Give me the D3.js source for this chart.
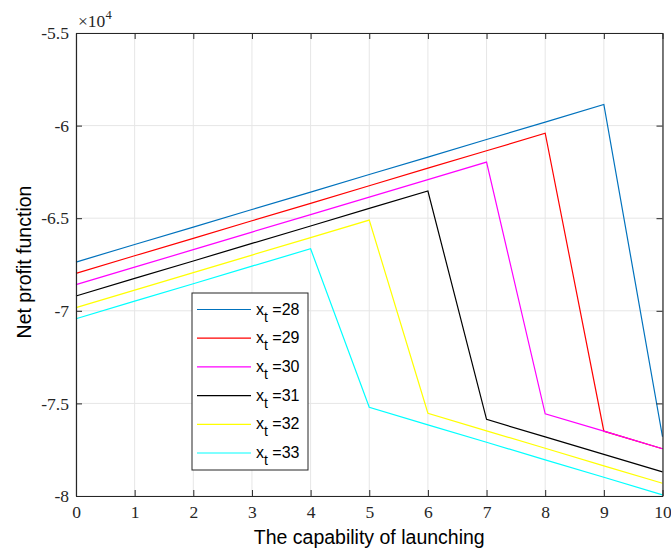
<!DOCTYPE html>
<html><head><meta charset="utf-8">
<script src="https://cdn.jsdelivr.net/npm/d3@7"></script>
<style>body{margin:0;background:#fff;} svg{display:block;}</style>
</head><body>
<script>
const xValues = [0,1,2,3,4,5,6,7,8,9,10];
const seriesNames = ["28","29","30","31","32","33"];
const seriesColors = ["#0072BD","#FF0000","#FF00FF","#000000","#FFFF00","#00FFFF"];
const s28 = [-67370,-66420,-65480,-64530,-63590,-62640,-61700,-60750,-59810,-58860,-76800];
const s29 = [-67980,-67030,-66090,-65140,-64200,-63250,-62300,-61360,-60410,-76500,-77450];
const s30 = [-68590,-67640,-66700,-65750,-64810,-63860,-62920,-61970,-75560,-76500,-77450];
const s31 = [-69200,-68250,-67310,-66360,-65420,-64470,-63530,-75860,-76810,-77750,-78700];
const s32 = [-69830,-68880,-67940,-66990,-66050,-65100,-75530,-76480,-77420,-78370,-79310];
const s33 = [-70430,-69480,-68540,-67590,-66650,-75210,-76160,-77100,-78050,-78990,-79940];
const allSeries = [s28,s29,s30,s31,s32,s33];
const xTicks = [0,1,2,3,4,5,6,7,8,9,10];
const yTicks = [-80000,-75000,-70000,-65000,-60000,-55000];
const yTickLabels = ["-8","-7.5","-7","-6.5","-6","-5.5"];

const W = 671, H = 552;
const m = {left:76, top:33, right:671-662.5, bottom:552-496};
const svg = d3.select("body").append("svg").attr("width",W).attr("height",H);
const x = d3.scaleLinear().domain([0,10]).range([m.left, W-m.right]);
const y = d3.scaleLinear().domain([-80000,-55000]).range([H-m.bottom, m.top]);
const axisColor = "#262626";
const serif = "'Liberation Serif','DejaVu Serif',serif";
const sans = "'Liberation Sans',Arial,Helvetica,sans-serif";

// grid
svg.append("g").selectAll("line").data(xTicks).join("line")
  .attr("x1",d=>x(d)).attr("x2",d=>x(d)).attr("y1",y(-80000)).attr("y2",y(-55000))
  .attr("stroke","#e6e6e6").attr("stroke-width",1);
svg.append("g").selectAll("line").data(yTicks).join("line")
  .attr("y1",d=>y(d)).attr("y2",d=>y(d)).attr("x1",x(0)).attr("x2",x(10))
  .attr("stroke","#e6e6e6").attr("stroke-width",1);

// lines
const line = d3.line().x((d,i)=>x(xValues[i])).y(d=>y(d));
allSeries.forEach((s,i)=>{
  svg.append("path").datum(s).attr("d",line).attr("fill","none")
    .attr("stroke",seriesColors[i]).attr("stroke-width",1.2);
});

// axes
const tl = 6;
function axisStyle(g){
  g.attr("font-family",null).attr("font-size",null);
  g.select(".domain").attr("stroke",axisColor).attr("stroke-width",1.2);
  g.selectAll(".tick line").attr("stroke",axisColor).attr("stroke-width",1);
  g.selectAll(".tick text").attr("fill",axisColor)
    .style("font-family",serif).style("font-size","17.5px");
}
svg.append("g").attr("transform",`translate(0,${y(-80000)})`)
  .call(d3.axisBottom(x).tickValues(xTicks).tickSize(-tl).tickSizeOuter(0).tickPadding(10).tickFormat(d3.format("d")))
  .call(axisStyle);
svg.append("g").attr("transform",`translate(0,${y(-55000)})`)
  .call(d3.axisTop(x).tickValues(xTicks).tickSize(-tl).tickSizeOuter(0).tickFormat(""))
  .call(axisStyle);
svg.append("g").attr("transform",`translate(${x(0)},0)`)
  .call(d3.axisLeft(y).tickValues(yTicks).tickSize(-tl).tickSizeOuter(0).tickPadding(7).tickFormat((d,i)=>yTickLabels[i]))
  .call(axisStyle);
svg.append("g").attr("transform",`translate(${x(10)},0)`)
  .call(d3.axisRight(y).tickValues(yTicks).tickSize(-tl).tickSizeOuter(0).tickFormat(""))
  .call(axisStyle);

// exponent
const ex = svg.append("text").attr("x",x(0)+2).attr("y",y(-55000)-6)
  .style("font-family",serif).style("font-size","17.5px").attr("fill",axisColor);
ex.append("tspan").text("×10");
ex.append("tspan").style("font-size","12.5px").attr("dy",-8).text("4");

// axis labels
svg.append("text").attr("x",(x(0)+x(10))/2).attr("y",544)
  .attr("text-anchor","middle").style("font-family",sans).style("font-size","19.5px").attr("fill","#000")
  .text("The capability of launching");
svg.append("text").attr("transform",`translate(31,262) rotate(-90)`)
  .attr("text-anchor","middle").style("font-family",sans).style("font-size","19.5px").attr("fill","#000")
  .text("Net profit function");

// legend
const lg = svg.append("g");
lg.append("rect").attr("x",192).attr("y",293).attr("width",116).attr("height",177)
  .attr("fill","#fff").attr("stroke","#262626").attr("stroke-width",1);
seriesNames.forEach((n,i)=>{
  const yy = 309.5 + i*28.7;
  lg.append("line").attr("x1",197).attr("x2",251).attr("y1",yy).attr("y2",yy)
    .attr("stroke",seriesColors[i]).attr("stroke-width",1.2);
  const t = lg.append("text").attr("x",256).attr("y",yy+5)
    .style("font-family",sans).style("font-size","16px").attr("fill","#000");
  t.append("tspan").text("x");
  t.append("tspan").style("font-size","14px").attr("dy",7).text("t");
  t.append("tspan").attr("dy",-7).text(" =" + n);
});
</script>
</body></html>
